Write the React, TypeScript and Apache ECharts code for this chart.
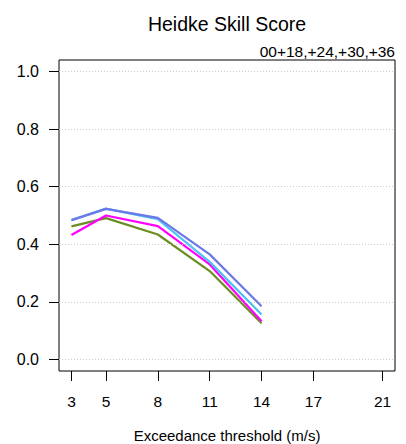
import React, { useEffect, useRef } from "react";
import * as echarts from "echarts";

const thresholds = [3, 5, 8, 11, 14];
const xTicks = [3, 5, 8, 11, 14, 17, 21];
const yTicks = [0, 0.2, 0.4, 0.6, 0.8, 1.0];

const seriesNames = ["+36", "+30", "+24", "+18"];
const seriesColors = ["#6b8e23", "#ff00ff", "#4fbff5", "#6b78e6"];
const green = [0.462, 0.491, 0.434, 0.307, 0.126];
const magenta = [0.432, 0.5, 0.463, 0.33, 0.133];
const lightBlue = [0.484, 0.524, 0.487, 0.339, 0.156];
const blue = [0.484, 0.523, 0.492, 0.365, 0.185];
const seriesValues = [green, magenta, lightBlue, blue];

const FONT = "Liberation Sans, Arial, Helvetica, sans-serif";

export default function App() {
  const ref = useRef<HTMLDivElement>(null);
  useEffect(() => {
    if (!ref.current) return;
    const chart = echarts.init(ref.current, null, { renderer: "svg" });
    chart.setOption({
      animation: false,
      backgroundColor: "#ffffff",
      textStyle: { fontFamily: FONT },
      grid: {
        left: 59,
        right: 11,
        top: 60,
        bottom: 73,
        show: true,
        borderColor: "#000000",
        borderWidth: 1,
        backgroundColor: "transparent",
      },
      xAxis: {
        type: "value",
        min: 2.28,
        max: 21.72,
        axisLine: { show: false, onZero: false },
        axisTick: {
          show: true,
          inside: false,
          length: 10,
          customValues: xTicks,
          lineStyle: { color: "#000000", width: 1 },
        },
        axisLabel: {
          customValues: xTicks,
          margin: 22,
          fontSize: 15.5,
          color: "#000000",
          fontFamily: FONT,
        },
        splitLine: { show: false },
      },
      yAxis: {
        type: "value",
        min: -0.04,
        max: 1.04,
        axisLine: { show: false, onZero: false },
        axisTick: {
          show: true,
          inside: false,
          length: 10,
          customValues: yTicks,
          lineStyle: { color: "#000000", width: 1 },
        },
        axisLabel: {
          customValues: yTicks,
          margin: 20,
          fontSize: 16,
          color: "#000000",
          fontFamily: FONT,
          formatter: (v: number) => v.toFixed(1),
        },
        splitLine: { show: false },
      },
      graphic: [
        {
          type: "text",
          x: 227,
          y: 24,
          style: {
            text: "Heidke Skill Score",
            fontSize: 19.5,
            fontFamily: FONT,
            fill: "#000000",
            textAlign: "center",
            textVerticalAlign: "middle",
          },
        },
        {
          type: "text",
          x: 395,
          y: 51,
          style: {
            text: "00+18,+24,+30,+36",
            fontSize: 15.5,
            fontFamily: FONT,
            fill: "#000000",
            textAlign: "right",
            textVerticalAlign: "middle",
          },
        },
        {
          type: "text",
          x: 227,
          y: 435,
          style: {
            text: "Exceedance threshold (m/s)",
            fontSize: 15,
            fontFamily: FONT,
            fill: "#000000",
            textAlign: "center",
            textVerticalAlign: "middle",
          },
        },
      ],
      series: [
        {
          type: "line",
          name: "grid",
          data: [],
          silent: true,
          markLine: {
            silent: true,
            symbol: ["none", "none"],
            label: { show: false },
            lineStyle: { color: "#cccccc", type: [1, 2], width: 1 },
            data: yTicks.map((v) => ({ yAxis: v })),
          },
        },
        ...seriesValues.map((vals, i) => ({
          type: "line",
          name: seriesNames[i],
          data: thresholds.map((x, j) => [x, vals[j]]),
          showSymbol: false,
          symbol: "none",
          lineStyle: { color: seriesColors[i], width: 2.2 },
          itemStyle: { color: seriesColors[i] },
          z: 3 + i,
        })),
      ],
    });
    return () => chart.dispose();
  }, []);
  return <div ref={ref} style={{ width: 406, height: 444, position: "absolute", left: 0, top: 0 }} />;
}
